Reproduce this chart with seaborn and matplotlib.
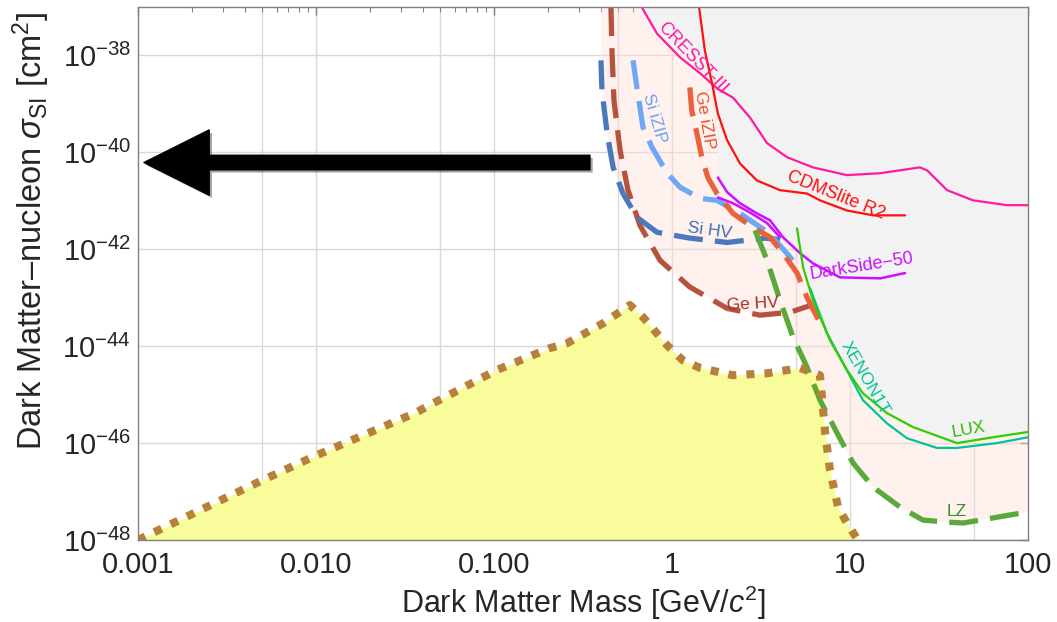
import numpy as np
import pandas as pd
import seaborn as sns
import matplotlib.pyplot as plt
import matplotlib.patheffects as pe
from matplotlib import ticker

# dark matter mass in GeV/c^2, cross sections stored as log10(sigma / cm^2)

# projected sensitivities (dashed)
ge_hv_mass = [0.454, 0.460, 0.472, 0.511, 0.566, 0.661, 0.857, 1.26, 2.04, 3.12, 4.60, 6.12]
ge_hv_sig = [-37.0, -37.90, -38.93, -39.96, -40.78, -41.51, -42.23, -42.78, -43.22, -43.36, -43.30, -43.15]

si_hv_mass = [0.399, 0.404, 0.432, 0.467, 0.531, 0.635, 0.824, 1.26, 2.04, 3.33, 4.04]
si_hv_sig = [-38.10, -38.72, -39.61, -40.31, -40.85, -41.34, -41.65, -41.77, -41.86, -41.77, -41.80]

si_izip_mass = [0.604, 0.635, 0.687, 0.773, 0.938, 1.11, 1.44, 1.79, 2.41, 3.33, 4.04, 4.60, 5.10]
si_izip_sig = [-38.10, -38.66, -39.48, -39.90, -40.43, -40.72, -40.95, -40.99, -41.26, -41.61, -41.92, -42.16, -42.39]

ge_izip_mass = [1.26, 1.29, 1.38, 1.47, 1.59, 1.79, 2.20, 2.85, 3.55, 4.20, 5.04, 5.73, 6.53, 6.78]
ge_izip_sig = [-38.66, -39.13, -39.61, -40.10, -40.52, -40.85, -41.26, -41.55, -41.75, -42.08, -42.49, -42.99, -43.40, -43.51]

lz_mass = [2.93, 3.42, 4.04, 4.78, 5.73, 6.78, 8.45, 10.4, 13.5, 19.1, 25.7, 35.1, 43.2, 66.9, 100]
lz_sig = [-41.61, -42.23, -43.05, -43.81, -44.43, -45.11, -45.79, -46.41, -46.91, -47.32, -47.59, -47.63, -47.65, -47.53, -47.42]

# current limits (solid)
cresst_mass = [0.678, 0.824, 1.11, 1.44, 1.79, 2.20, 2.74, 3.42, 4.43, 6.19, 9.61, 14.8, 24.7, 27.1, 35.1, 49.1, 76.2, 100]
cresst_sig = [-37.01, -37.55, -38.04, -38.37, -38.68, -38.87, -39.28, -39.81, -40.10, -40.31, -40.47, -40.43, -40.31, -40.37, -40.78, -40.99, -41.09, -41.09]

cdmslite_mass = [1.42, 1.53, 1.68, 1.81, 2.04, 2.41, 3.00, 4.04, 5.73, 6.78, 9.61, 13.5, 20.4]
cdmslite_sig = [-37.01, -37.90, -38.58, -39.20, -39.75, -40.23, -40.58, -40.78, -40.85, -40.99, -41.20, -41.30, -41.30]

darkside_mass = [1.81, 2.04, 2.41, 3.00, 3.55, 4.20, 5.24, 6.19, 8.79, 14.8, 20.4]
darkside_sig = [-40.52, -40.82, -41.05, -41.26, -41.40, -41.75, -42.08, -42.29, -42.58, -42.60, -42.49]
darkside2_mass = [1.81, 2.20, 2.74, 3.42, 4.04]
darkside2_sig = [-40.93, -41.05, -41.24, -41.46, -41.75]

lux_mass = [5.04, 5.45, 6.19, 7.72, 9.61, 11.8, 16.1, 22.6, 39.9, 63.6, 100]
lux_sig = [-41.57, -42.37, -43.05, -43.88, -44.49, -44.97, -45.38, -45.67, -46.00, -45.88, -45.77]

xenon_mass = [5.96, 7.43, 9.14, 11.8, 16.1, 20.9, 30.8, 39.9, 66.9, 100]
xenon_sig = [-42.80, -43.73, -44.35, -45.11, -45.59, -45.90, -46.10, -46.10, -46.00, -45.88]

# neutrino floor (dotted, yellow)
nu_mass = [0.001, 0.00504, 0.0101, 0.036, 0.0454, 0.104, 0.206, 0.257, 0.409, 0.58, 0.687, 0.938,
           1.15, 1.44, 2.20, 3.42, 5.24, 6.78, 6.96, 7.24, 7.72, 8.57, 9.61, 10.9, 11.8]
nu_sig = [-48.0, -46.76, -46.25, -45.38, -45.18, -44.49, -44.04, -43.94, -43.53, -43.15, -43.40, -43.98,
          -44.29, -44.45, -44.60, -44.56, -44.45, -44.60, -45.05, -45.77, -46.56, -47.32, -47.65, -47.96, -48.2]

# shaded regions
pink_mass = [0.399, 0.399, 0.404, 0.432, 0.467, 0.531, 0.597, 0.661, 0.857, 1.26, 2.04, 3.12, 4.25,
             4.78, 5.73, 6.78, 8.45, 10.4, 13.5, 19.1, 25.7, 35.1, 43.2, 66.9, 100, 100]
pink_sig = [-37.0, -38.10, -38.72, -39.61, -40.31, -40.85, -41.20, -41.51, -42.23, -42.78, -43.22, -43.36, -43.33,
            -43.81, -44.43, -45.11, -45.79, -46.41, -46.91, -47.32, -47.59, -47.63, -47.65, -47.53, -47.42, -37.0]

gray_mass = [0.678, 0.824, 1.11, 1.44, 1.81, 1.81, 2.04, 2.41, 3.00, 3.55, 4.20, 5.04, 5.45, 6.19, 7.72,
             9.61, 11.8, 16.1, 22.6, 39.9, 63.6, 100, 100]
gray_sig = [-37.0, -37.55, -38.04, -38.37, -38.70, -40.52, -40.82, -41.05, -41.26, -41.40, -41.75, -42.00,
            -42.37, -43.05, -43.88, -44.49, -44.97, -45.38, -45.67, -46.00, -45.88, -45.77, -37.0]

# curve labels
label_text = ["CRESST-III", "Si iZIP", "Ge iZIP", "Si HV", "Ge HV", "CDMSlite R2",
              "DarkSide\u221250", "XENON1T", "LUX", "LZ"]
label_mass = [1.30, 0.80, 1.53, 1.63, 2.85, 8.34, 11.7, 12.1, 46.6, 39.9]
label_sig = [-38.06, -39.30, -39.34, -41.61, -43.13, -40.89, -42.35, -44.66, -45.73, -47.42]
label_rot = [-46, -74, -80, -8, 3, -22, 9, -60, 10, 0]
label_size = [13, 12.5, 12.5, 12.5, 12.5, 13, 13, 12.5, 12.5, 12.5]
label_color = ["#ff1aa0", "#6aa4f0", "#e8552e", "#3f6db5", "#a0302a", "#ff1010",
               "#cc11ff", "#00c496", "#33bb00", "#3c8c2c"]

x_ticks = [0.001, 0.01, 0.1, 1, 10, 100]
x_ticklabels = ["0.001", "0.010", "0.100", "1", "10", "100"]
x_grid = [0.005, 0.01, 0.05, 0.1, 0.5, 1, 5, 10, 50]
y_exps = [-48, -46, -44, -42, -40, -38]

sns.set_theme(style="white")
plt.rcParams['font.family'] = ['Liberation Sans', 'DejaVu Sans']
plt.rcParams['mathtext.fontset'] = 'custom'
plt.rcParams['mathtext.rm'] = 'Liberation Sans'
plt.rcParams['mathtext.it'] = 'Liberation Sans:italic'
plt.rcParams['mathtext.default'] = 'regular'

fig = plt.figure(figsize=(10.57, 6.22), dpi=100)
ax = fig.add_axes([138 / 1057, 1 - 540 / 622, 890 / 1057, 533 / 622])
ax.set_xscale('log')
ax.set_yscale('log')


def sig(v):
    return 10.0 ** np.array(v)


# grid below everything
for g in x_grid:
    ax.axvline(g, color='#d9d9d9', lw=1, zorder=0)
for e in y_exps:
    ax.axhline(10.0 ** e, color='#d9d9d9', lw=1, zorder=0)

ax.fill(pink_mass, sig(pink_sig), color='#ffdcd6', alpha=0.4, lw=0, zorder=1)
ax.fill(gray_mass, sig(gray_sig), color='#f2f2f2', lw=0, zorder=1.5)
ax.fill_between(nu_mass, 1e-50, sig(nu_sig), color='#f8fc9a', lw=0, zorder=2)


def draw(mass, logsig, color, lw, ls, z=3):
    df = pd.DataFrame({'mass': mass, 'sigma': sig(logsig)})
    sns.lineplot(data=df, x='mass', y='sigma', color=color, lw=lw, linestyle=ls,
                 sort=False, estimator=None, ax=ax, zorder=z)


dash = (0, (5.5, 2.3))
draw(nu_mass, nu_sig, '#b8803a', 5.8, (0, (1, 1.25)), 4)
draw(ge_hv_mass, ge_hv_sig, '#b5533f', 3.8, dash)
draw(si_hv_mass, si_hv_sig, '#4a78bd', 3.8, dash)
draw(si_izip_mass, si_izip_sig, '#6ea8f5', 3.8, dash)
draw(ge_izip_mass, ge_izip_sig, '#e8623c', 3.8, dash)
draw(lz_mass, lz_sig, '#5aa93b', 3.8, dash)

draw(cresst_mass, cresst_sig, '#ff1aa0', 1.6, '-', 5)
draw(cdmslite_mass, cdmslite_sig, '#ff1010', 1.6, '-', 5)
draw(darkside_mass, darkside_sig, '#cc11ff', 1.8, '-', 5)
draw(darkside2_mass, darkside2_sig, '#cc11ff', 1.8, '-', 5)
draw(xenon_mass, xenon_sig, '#00c496', 1.6, '-', 5)
draw(lux_mass, lux_sig, '#33cc00', 1.6, '-', 5)

for t, m, s, r, fs, c in zip(label_text, label_mass, label_sig, label_rot, label_size, label_color):
    ax.text(m, 10.0 ** s, t, color=c, fontsize=fs, rotation=r, rotation_mode='anchor',
            ha='center', va='center', zorder=6)

# big arrow pointing to low masses
ax.annotate('', xy=(0.00108, 10 ** -40.21), xytext=(0.346, 10 ** -40.21),
            arrowprops=dict(arrowstyle='simple,head_length=47,head_width=47,tail_width=10.5',
                            mutation_scale=1, color='black', shrinkA=0, shrinkB=0,
                            path_effects=[pe.SimplePatchShadow(offset=(2, -2), alpha=0.35), pe.Normal()]),
            zorder=7)

ax.set_xlim(0.001, 100)
ax.set_ylim(1e-48, 1e-37)
ax.set_xticks(x_ticks)
ax.set_xticklabels(x_ticklabels)
ax.xaxis.set_minor_locator(ticker.LogLocator(base=10, subs=np.arange(2, 10)))
ax.xaxis.set_minor_formatter(ticker.NullFormatter())
ax.set_yticks([10.0 ** e for e in y_exps])
ax.set_yticklabels([r"$10^{%d}$" % e for e in y_exps])
ax.yaxis.set_minor_locator(ticker.NullLocator())
ax.tick_params(which='both', direction='in', top=True, right=True, color='#808080', labelsize=21)
ax.tick_params(which='major', length=6, width=1)
ax.tick_params(which='minor', length=3.5, width=0.8)
ax.tick_params(axis='x', pad=8)
ax.tick_params(axis='y', pad=5)
for sp in ax.spines.values():
    sp.set_color('#808080')
    sp.set_linewidth(1)
    sp.set_zorder(8)

ax.set_xlabel(r"Dark Matter Mass [GeV/$\mathit{c}^2$]", fontsize=22, labelpad=3)
ax.set_ylabel("Dark Matter\u2013nucleon $\\mathit{\\sigma}_{\\mathrm{SI}}$ [cm$^2$]", fontsize=23.5)
ax.yaxis.set_label_coords(-0.097, 0.58)

fig.savefig('out.png', dpi=100)
